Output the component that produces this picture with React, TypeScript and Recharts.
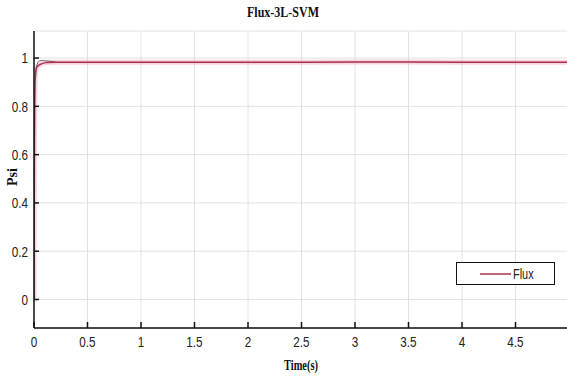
import React from "react"
import {
  CartesianGrid,
  ComposedChart,
  Line,
  XAxis,
  YAxis,
} from "recharts"

// simulated stator flux magnitude, 3-level SVM drive
const time = [0, 0.002, 0.004, 0.007, 0.01, 0.015, 0.02, 0.03, 0.05, 0.08, 0.12, 0.2, 0.5, 1, 1.5, 2, 2.5, 3, 3.5, 4, 4.5, 5]
const flux = [0, 0.35, 0.62, 0.82, 0.9, 0.94, 0.955, 0.965, 0.972, 0.978, 0.982, 0.983, 0.983, 0.983, 0.983, 0.983, 0.983, 0.984, 0.984, 0.983, 0.983, 0.983]
// transient trace that overshoots slightly before settling
const fluxTrace = [null, null, null, null, null, 0.93, 0.955, 0.975, 0.988, 0.99, 0.988, 0.984, null, null, null, null, null, null, null, null, null, null]

const xTicks = [0, 0.5, 1, 1.5, 2, 2.5, 3, 3.5, 4, 4.5]
const yTicks = [0, 0.2, 0.4, 0.6, 0.8, 1]

const data = time.map((t, i) => ({ t, flux: flux[i], trace: fluxTrace[i] }))

const tickFont = "'Liberation Sans Narrow', 'Arial Narrow', 'Liberation Sans', sans-serif"
const serif = "'Liberation Serif', 'Times New Roman', serif"

const XTick = (props: any) => {
  const { x, y, payload } = props
  return (
    <text x={0} y={0} transform={`translate(${x},${y}) scale(0.78,1)`} textAnchor="middle" dy="0.75em" fontSize={15} fill="#222" fontFamily={tickFont}>
      {payload.value}
    </text>
  )
}

const YTick = (props: any) => {
  const { x, y, payload } = props
  return (
    <text x={0} y={0} transform={`translate(${x},${y}) scale(0.78,1)`} textAnchor="end" dy="0.36em" fontSize={15} fill="#222" fontFamily={tickFont}>
      {payload.value}
    </text>
  )
}

export default function App() {
  return (
    <div style={{ position: "fixed", left: 0, top: 0, width: 567, height: 377, overflow: "hidden", background: "#fff" }}>
      <ComposedChart width={569} height={377} data={data} margin={{ top: 31, right: 0, bottom: 0, left: 0 }}>
        <CartesianGrid stroke="#e2e2e2" strokeWidth={1} />
        <XAxis
          dataKey="t"
          type="number"
          domain={[0, 5]}
          ticks={xTicks}
          tick={<XTick />}
          tickSize={-6}
          tickMargin={14}
          height={49}
          stroke="#111"
          strokeWidth={1.5}
          tickLine={{ stroke: "#111" }}
          allowDataOverflow
        />
        <XAxis
          xAxisId="top"
          dataKey="t"
          type="number"
          orientation="top"
          domain={[0, 5]}
          ticks={xTicks}
          tick={false}
          tickSize={-6}
          height={0}
          stroke="#111"
          strokeWidth={1.5}
          tickLine={{ stroke: "#111" }}
        />
        <YAxis
          type="number"
          domain={[-0.118, 1.112]}
          ticks={yTicks}
          tick={<YTick />}
          tickSize={-5}
          tickMargin={11}
          width={34}
          stroke="#111"
          strokeWidth={1.5}
          tickLine={{ stroke: "#111" }}
          allowDataOverflow
        />
        <Line
          dataKey="flux"
          type="linear"
          stroke="#f2b6c6"
          strokeWidth={5}
          strokeOpacity={0.6}
          dot={false}
          isAnimationActive={false}
          legendType="none"
        />
        <Line
          dataKey="trace"
          type="monotone"
          stroke="#6a6a6a"
          strokeWidth={1}
          dot={false}
          connectNulls={false}
          isAnimationActive={false}
          legendType="none"
        />
        <Line
          dataKey="flux"
          type="linear"
          stroke="#a8334f"
          strokeWidth={1.5}
          dot={false}
          isAnimationActive={false}
          name="Flux"
        />
        {/* legend box */}
        <rect x={456.5} y={262.5} width={98} height={22} fill="#fff" stroke="#111" strokeWidth={1} />
        <line x1={480} x2={511} y1={274} y2={274} stroke="#a8334f" strokeWidth={1.5} />
        <text x={0} y={0} transform="translate(513,274) scale(0.78,1)" dy="0.36em" fontSize={14} fill="#222" fontFamily={tickFont}>
          Flux
        </text>
        <text x={283} y={12} textAnchor="middle" dy="0.36em" fontSize={15} fontWeight="bold" fontFamily={serif} fill="#111" textLength={72} lengthAdjust="spacingAndGlyphs">
          Flux-3L-SVM
        </text>
        <text x={301} y={365} textAnchor="middle" dy="0.36em" fontSize={15} fontWeight="bold" fontFamily={serif} fill="#111" textLength={34} lengthAdjust="spacingAndGlyphs">
          Time(s)
        </text>
        <text x={0} y={0} transform="translate(12,177) rotate(-90)" textAnchor="middle" dy="0.36em" fontSize={14} fontWeight="bold" fontFamily={serif} fill="#111">
          Psi
        </text>
      </ComposedChart>
    </div>
  )
}
